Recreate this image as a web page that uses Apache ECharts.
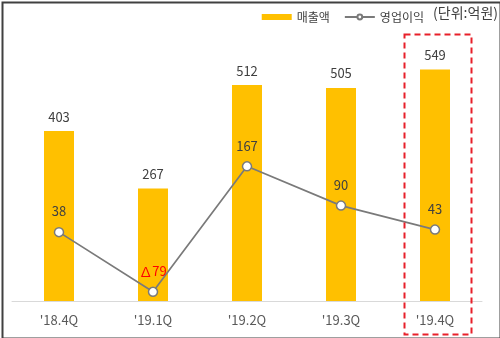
<!DOCTYPE html>
<html>
<head>
<meta charset="utf-8">
<script src="https://cdn.jsdelivr.net/npm/echarts@6/dist/echarts.min.js"></script>
<style>
  html, body { margin: 0; padding: 0; background: #fff; }
  #chart { width: 500px; height: 338px; }
</style>
</head>
<body>
<div id="chart"></div>
<script>
// quarters and values (단위: 억원)
var quarters = ["'18.4Q", "'19.1Q", "'19.2Q", "'19.3Q", "'19.4Q"];
var sales = [403, 267, 512, 505, 549];
var profit = [38, -79, 167, 90, 43];

var FONT = '"Noto Sans CJK KR", "Noto Sans", sans-serif';

var myChart = echarts.init(document.getElementById('chart'));

// negative profit is shown as a red triangle mark
var profitData = profit.map(function (v) {
    if (v < 0) {
        return { value: v, label: { color: '#ff0000' } };
    }
    return v;
});

var option = {
    backgroundColor: '#ffffff',
    animation: false,
    textStyle: { fontFamily: FONT },
    grid: { left: 12, right: 18, top: 48, bottom: 37 },
    legend: {
        right: 71,
        top: 6,
        itemWidth: 30,
        itemHeight: 6,
        itemGap: 14,
        textStyle: { fontSize: 12, color: '#404040', fontFamily: FONT },
        data: [
            { name: '매출액', icon: 'rect' },
            { name: '영업이익' }
        ]
    },
    xAxis: {
        type: 'category',
        data: quarters,
        axisLine: { lineStyle: { color: '#d9d9d9', width: 1 } },
        axisTick: { show: false },
        axisLabel: { color: '#595959', fontSize: 13, margin: 13, fontFamily: FONT }
    },
    yAxis: [
        { type: 'value', min: 0, max: 600, show: false },
        { type: 'value', min: -97, max: 399, show: false }
    ],
    series: [
        {
            name: '매출액',
            type: 'bar',
            data: sales,
            barWidth: 30,
            itemStyle: { color: '#ffc000' },
            label: {
                show: true,
                position: 'top',
                distance: 8,
                color: '#404040',
                fontSize: 13,
                fontFamily: FONT
            }
        },
        {
            name: '영업이익',
            type: 'line',
            yAxisIndex: 1,
            data: profitData,
            symbol: 'circle',
            symbolSize: 9,
            lineStyle: { color: '#7a7a7a', width: 1.7 },
            itemStyle: { color: '#ffffff', borderColor: '#7a7a7a', borderWidth: 1.5 },
            label: {
                show: true,
                position: 'top',
                distance: 9,
                color: '#404040',
                fontSize: 13,
                fontFamily: FONT,
                formatter: function (p) {
                    var v = p.value;
                    return v < 0 ? '∆' + Math.abs(v) : String(v);
                }
            }
        }
    ],
    graphic: [
        {
            type: 'text',
            right: 2,
            top: 6,
            style: { text: '(단위:억원)', fill: '#404040', font: '14px ' + FONT }
        },
        {
            type: 'rect',
            left: 402,
            top: 32,
            shape: { width: 67, height: 300 },
            style: { fill: 'none', stroke: '#e8202a', lineWidth: 2, lineDash: [6, 4] },
            z: 10
        },
        {
            type: 'rect',
            left: 0,
            top: 0,
            shape: { x: 1, y: 1, width: 498, height: 336 },
            style: { fill: 'none', stroke: '#404040', lineWidth: 2 },
            z: 20
        }
    ]
};

myChart.setOption(option);
</script>
</body>
</html>
